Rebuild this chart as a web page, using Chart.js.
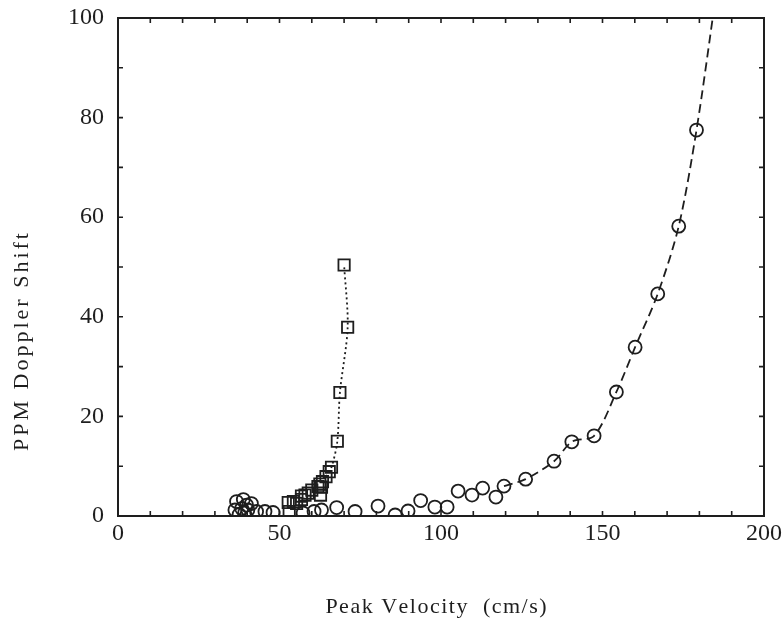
<!DOCTYPE html>
<html>
<head>
<meta charset="utf-8">
<script src="https://cdn.jsdelivr.net/npm/chart.js@4.4.1/dist/chart.umd.min.js"></script>
<style>
  html, body { margin: 0; padding: 0; background: #fff; }
  #wrap { width: 784px; height: 622px; }
</style>
</head>
<body>
<div id="wrap"><canvas id="chart" width="784" height="622"></canvas></div>
<script>
// circles (open markers)
const circleX = [36.2, 36.7, 37.5, 38.3, 38.8, 39.2, 39.8, 40.2, 41.3, 42.9, 45.5, 48.0,
  57.3, 60.7, 63.0, 67.7, 73.4, 80.5, 85.8, 89.8, 93.7, 98.1, 101.9, 105.3, 109.6,
  112.9, 117.0, 119.5, 126.2, 135.0, 140.5, 147.4, 154.3, 160.1, 167.1, 173.6, 179.1];
const circleY = [1.2, 2.9, 0.3, 1.5, 3.3, 0.6, 2.2, 1.2, 2.5, 0.9, 0.9, 0.7,
  0.6, 0.9, 1.2, 1.7, 0.9, 2.0, 0.2, 1.0, 3.1, 1.8, 1.8, 5.0, 4.2,
  5.6, 3.8, 6.0, 7.4, 11.0, 14.9, 16.1, 24.9, 33.9, 44.6, 58.2, 77.5];
// dashed curve through the circles
const circleCurveX = [119.5, 126.2, 135.0, 140.5, 147.4, 154.3, 160.1, 167.1, 173.6, 179.1, 185.0];
const circleCurveY = [6.0, 7.4, 11.0, 14.9, 16.1, 24.9, 33.9, 44.6, 58.2, 77.5, 104.0];

// squares
const squareX = [52.7, 53.0, 54.3, 55.3, 56.8, 56.8, 57.9, 58.9, 60.0, 61.9, 62.7, 63.0,
  62.5, 63.3, 64.4, 65.4, 66.1, 67.9, 68.7, 71.1, 70.0];
const squareY = [2.7, 0.9, 2.9, 2.5, 3.3, 4.0, 4.2, 4.6, 5.2, 5.9, 4.2, 5.8,
  6.4, 6.9, 7.9, 8.9, 9.8, 15.0, 24.8, 37.9, 50.4];
// dotted curve through the squares
const squareCurveX = [64.4, 66.1, 67.9, 68.7, 71.1, 70.0];
const squareCurveY = [7.9, 9.8, 15.0, 24.8, 37.9, 50.4];

const xTicks = [0, 50, 100, 150, 200];
const yTicks = [0, 20, 40, 60, 80, 100];
const xTitle = 'Peak Velocity  (cm/s)';
const yTitle = 'PPM Doppler Shift';

const ink = '#1e1e1e';
const serif = "'Liberation Serif', 'DejaVu Serif', serif";

function pts(xs, ys) {
  return xs.map((x, i) => ({ x: x, y: ys[i] }));
}

// the scanned titles are loosely set, so space the letters by hand
function spacedText(ctx, text, cx, cy, gap) {
  const chars = Array.from(text);
  const widths = chars.map(c => ctx.measureText(c).width);
  let x = cx - (widths.reduce((s, w) => s + w, 0) + gap * (chars.length - 1)) / 2;
  chars.forEach((c, i) => {
    ctx.fillText(c, x, cy);
    x += widths[i] + gap;
  });
}

// box frame with small inward ticks every 10 units, plus the two axis titles
const frame = {
  id: 'frame',
  afterDatasetsDraw(chart) {
    const { ctx, chartArea: a, scales: { x, y } } = chart;
    ctx.save();
    ctx.strokeStyle = ink;
    ctx.lineWidth = 1.6;
    ctx.beginPath();
    for (let v = 10; v < 200; v += 10) {
      const px = x.getPixelForValue(v);
      ctx.moveTo(px, a.bottom); ctx.lineTo(px, a.bottom - 5);
      ctx.moveTo(px, a.top); ctx.lineTo(px, a.top + 5);
    }
    for (let v = 10; v < 100; v += 10) {
      const py = y.getPixelForValue(v);
      ctx.moveTo(a.left, py); ctx.lineTo(a.left + 5, py);
      ctx.moveTo(a.right, py); ctx.lineTo(a.right - 5, py);
    }
    ctx.stroke();
    ctx.lineWidth = 2;
    ctx.strokeRect(a.left, a.top, a.right - a.left, a.bottom - a.top);

    ctx.fillStyle = ink;
    ctx.font = '22px ' + serif;
    ctx.textAlign = 'left';
    ctx.textBaseline = 'middle';
    spacedText(ctx, xTitle, 436, 607, 1.5);
    ctx.translate(22, 342);
    ctx.rotate(-Math.PI / 2);
    spacedText(ctx, yTitle, 0, 0, 3);
    ctx.restore();
  }
};

new Chart(document.getElementById('chart'), {
  type: 'scatter',
  data: {
    datasets: [
      {
        data: pts(circleCurveX, circleCurveY),
        showLine: true,
        pointRadius: 0,
        borderColor: ink,
        borderWidth: 1.8,
        borderDash: [9, 5],
        tension: 0.3
      },
      {
        data: pts(squareCurveX, squareCurveY),
        showLine: true,
        pointRadius: 0,
        borderColor: ink,
        borderWidth: 1.8,
        borderDash: [2, 3],
        tension: 0.3
      },
      {
        data: pts(circleX, circleY),
        pointStyle: 'circle',
        pointRadius: 6.5,
        pointBorderWidth: 1.8,
        pointBorderColor: ink,
        pointBackgroundColor: 'rgba(0,0,0,0)'
      },
      {
        data: pts(squareX, squareY),
        pointStyle: 'rect',
        pointRadius: 8,
        pointBorderWidth: 1.8,
        pointBorderColor: ink,
        pointBackgroundColor: 'rgba(0,0,0,0)'
      }
    ]
  },
  options: {
    responsive: false,
    animation: false,
    layout: { padding: { top: 18, right: 20, left: 0, bottom: 0 } },
    plugins: { legend: { display: false }, tooltip: { enabled: false } },
    scales: {
      x: {
        type: 'linear',
        min: 0, max: 200,
        afterBuildTicks: s => { s.ticks = xTicks.map(v => ({ value: v })); },
        afterFit: s => { s.height = 106; s.paddingLeft = 0; s.paddingRight = 0; },
        grid: { display: false, drawTicks: false },
        border: { display: false },
        ticks: { color: ink, padding: 3, font: { family: serif, size: 24 } }
      },
      y: {
        type: 'linear',
        min: 0, max: 100,
        afterBuildTicks: s => { s.ticks = yTicks.map(v => ({ value: v })); },
        afterFit: s => { s.width = 118; s.paddingTop = 0; s.paddingBottom = 0; },
        grid: { display: false, drawTicks: false },
        border: { display: false },
        ticks: { color: ink, padding: 14, font: { family: serif, size: 24 } }
      }
    }
  },
  plugins: [frame]
});
</script>
</body>
</html>
